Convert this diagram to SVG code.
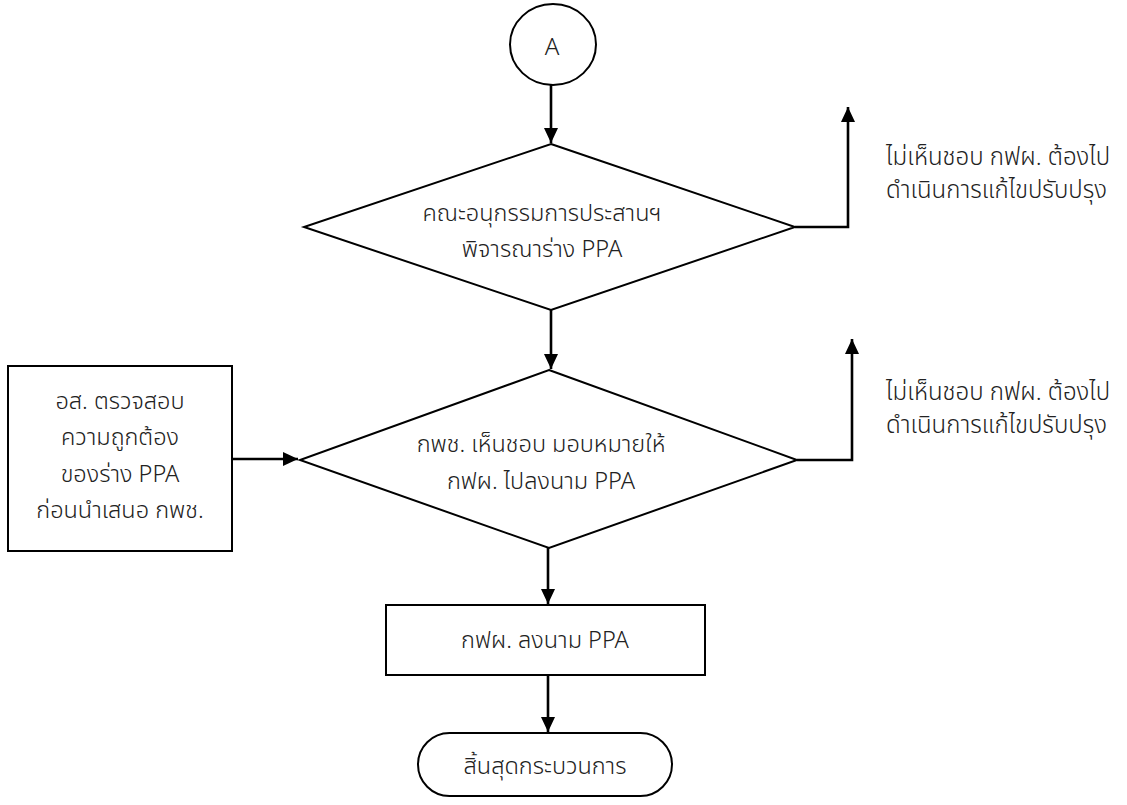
<svg xmlns="http://www.w3.org/2000/svg" width="1127" height="805" viewBox="0 0 1127 805">
<style>
.s{fill:#fff;stroke:#000;stroke-width:2}
.c{fill:none;stroke:#000;stroke-width:2.6}
text{font-family:"Noto Sans Thai","Leelawadee UI",Tahoma,"Noto Sans","DejaVu Sans",sans-serif;font-size:23.5px;font-weight:300;fill:#222}
.m{text-anchor:middle}
.r{font-size:24px}
</style>
<defs>
<marker id="ah" markerWidth="15" markerHeight="14" refX="15" refY="7" orient="auto" markerUnits="userSpaceOnUse">
<path d="M0,0 L15,7 L0,14 Z" fill="#000"/>
</marker>
</defs>
<rect width="1127" height="805" fill="#fff"/>
<g id="connectors">
<line class="c" x1="551" y1="85" x2="551" y2="143" marker-end="url(#ah)"/>
<polyline class="c" points="795,227 848,227 848,107" marker-end="url(#ah)"/>
<line class="c" x1="551" y1="310" x2="551" y2="369" marker-end="url(#ah)"/>
<polyline class="c" points="797,460 852,460 852,339" marker-end="url(#ah)"/>
<line class="c" x1="232" y1="459" x2="298" y2="459" marker-end="url(#ah)"/>
<line class="c" x1="548" y1="548" x2="548" y2="604" marker-end="url(#ah)"/>
<line class="c" x1="548" y1="676" x2="548" y2="732" marker-end="url(#ah)"/>
</g>
<g id="nodeA">
<ellipse class="s" cx="553" cy="44.5" rx="43" ry="40.5"/>
<text class="m" x="552" y="55" style="font-size:24px">A</text>
</g>
<g id="decision1">
<polygon class="s" points="551,144 795,227 551,310 304,227"/>
<text class="m" x="542" y="221">คณะอนุกรรมการประสานฯ</text>
<text class="m" x="542" y="257">พิจารณาร่าง PPA</text>
</g>
<g id="reject1">
<text class="r" x="886" y="165">ไม่เห็นชอบ กฟผ. ต้องไป</text>
<text class="r" x="886" y="198">ดำเนินการแก้ไขปรับปรุง</text>
</g>
<g id="decision2">
<polygon class="s" points="549,370 797,460 549,548 300,460"/>
<text class="m" x="541" y="452">กพช. เห็นชอบ มอบหมายให้</text>
<text class="m" x="541" y="489">กฟผ. ไปลงนาม PPA</text>
</g>
<g id="reject2">
<text class="r" x="886" y="400">ไม่เห็นชอบ กฟผ. ต้องไป</text>
<text class="r" x="886" y="433">ดำเนินการแก้ไขปรับปรุง</text>
</g>
<g id="check">
<rect class="s" x="8" y="366" width="224" height="185"/>
<text class="m" x="120" y="409">อส. ตรวจสอบ</text>
<text class="m" x="120" y="445">ความถูกต้อง</text>
<text class="m" x="120" y="482">ของร่าง PPA</text>
<text class="m" x="120" y="518">ก่อนนำเสนอ กพช.</text>
</g>
<g id="sign">
<rect class="s" x="386" y="605" width="319" height="70"/>
<text class="m" x="545" y="648">กฟผ. ลงนาม PPA</text>
</g>
<g id="end">
<rect class="s" x="418" y="733" width="254" height="63" rx="31.5" ry="31.5"/>
<text class="m" x="545" y="774">สิ้นสุดกระบวนการ</text>
</g>
</svg>
